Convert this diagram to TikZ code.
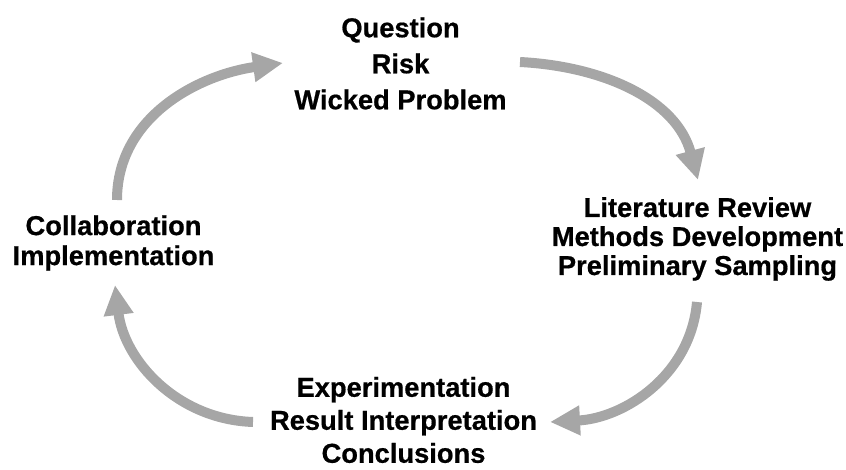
\documentclass[tikz,border=0pt]{standalone}
\usepackage{fontspec}
\setmainfont{Liberation Sans}[BoldFeatures={FakeBold=0.6}]
\usetikzlibrary{arrows.meta}
\begin{document}
\begin{tikzpicture}
[x=1pt,y=1pt,
  textdecorate/.style={align=center,inner sep=0pt,font=\bfseries\fontsize{27.3}{#1}\selectfont},%
  arrowdecorate/.style={-{Triangle[width=28pt,length=30pt]},line width=10pt,color=gray!70}]
\useasboundingbox (0,0) rectangle (846,469);
%%% research cycle
% text blocks
\node (question) at (400.5,405.5) [textdecorate=36] {Question\\Risk\\Wicked Problem};
\node (review) at (697.5,230) [textdecorate=29] {Literature Review\\Methods Development\\Preliminary Sampling};
\node (experiment) at (403.5,49) [textdecorate=33] {Experimentation\\Result Interpretation\\Conclusions};
\node (collab) at (113.5,226) [textdecorate=30] {Collaboration\\Implementation};
% ends of the arrows
\coordinate (a) at (117,269);
\coordinate (b) at (283,406);
\coordinate (c) at (520,407);
\coordinate (d) at (698,289);
\coordinate (e) at (697,167);
\coordinate (f) at (550,47);
\coordinate (g) at (253,47);
\coordinate (h) at (115,184);
% arrows
\path
(a) edge[arrowdecorate,out=90,in=188] (b)
(c) edge[arrowdecorate,out=-3,in=105] (d)
(e) edge[arrowdecorate,out=-95,in=3] (f)
(g) edge[arrowdecorate,out=178,in=-83] (h);
\end{tikzpicture}
\end{document}
